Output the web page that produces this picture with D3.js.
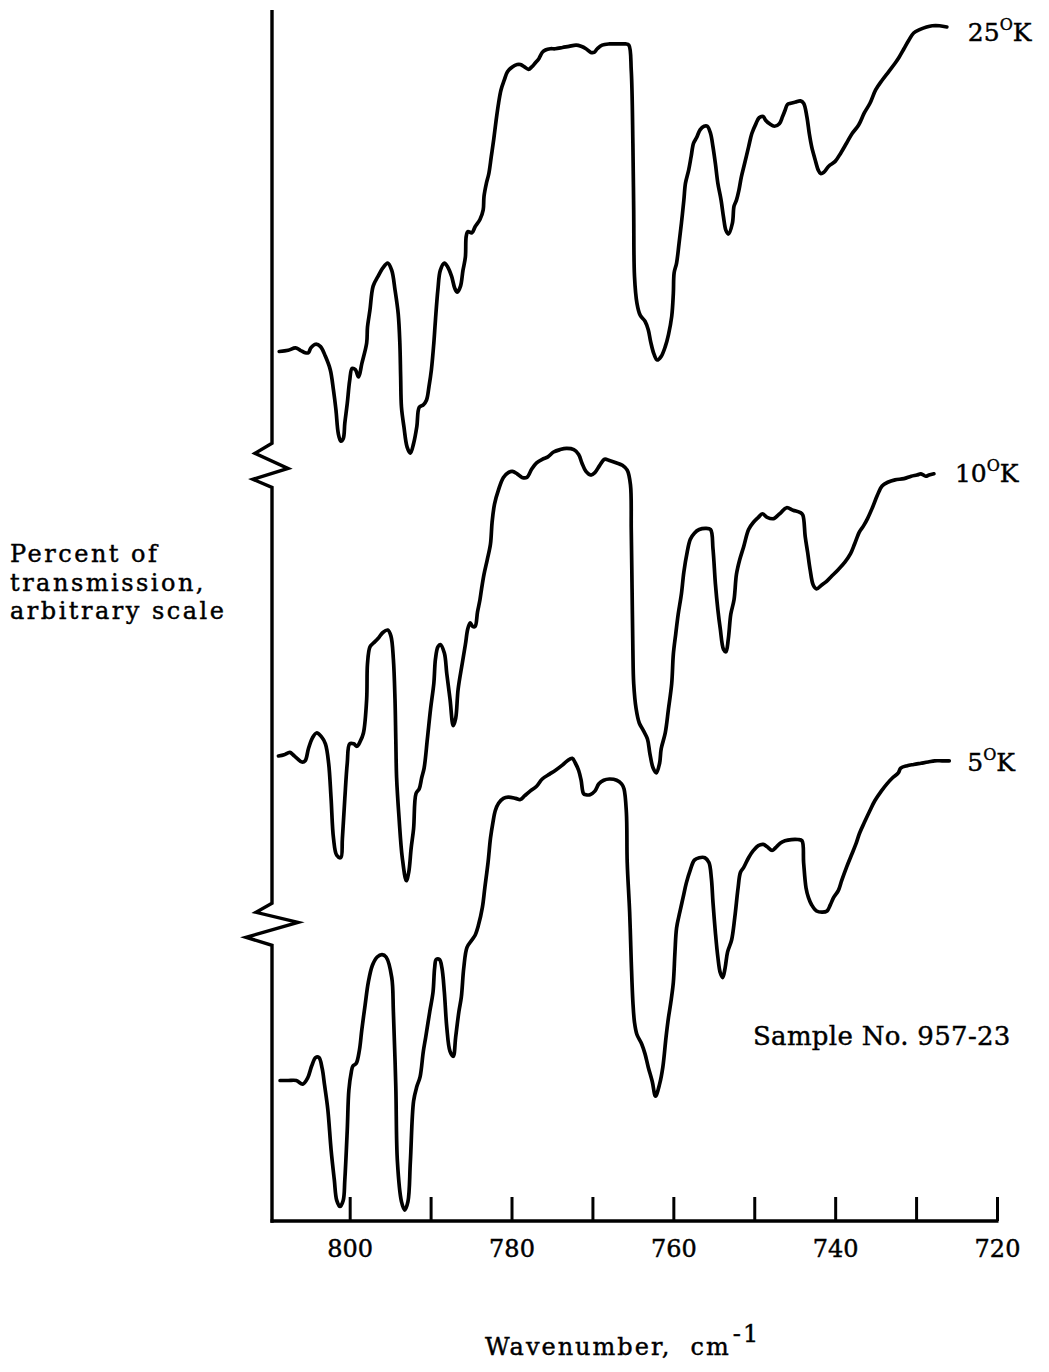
<!DOCTYPE html>
<html>
<head>
<meta charset="utf-8">
<script src="https://cdn.jsdelivr.net/npm/d3@7"></script>
<style>
  body { margin: 0; background: #fff; }
  svg { display: block; background: #fff; }
  text { font-family: "DejaVu Serif", serif; fill: #000; stroke: #000; stroke-width: 0.45px; }
</style>
</head>
<body>
<svg id="chart" width="1049" height="1372"></svg>
<script>
// Infrared transmission traces, [wavenumber (cm^-1), transmission (arbitrary, stacked)]
const spectrum25K = [
  [808.7,71.8],[807.6,71.9],[806.7,72.1],[806.1,71.9],[805.5,71.7],[805.1,71.7],[804.8,72.1],[804.2,72.4],[803.6,72.2],[803.0,71.4],
  [802.4,70.3],[802.0,68.6],[801.7,67.0],[801.4,65.0],[801.1,64.4],[800.8,64.6],[800.6,65.9],[800.3,67.5],[800.0,69.4],[799.7,70.4],
  [799.3,70.3],[798.9,69.7],[798.5,70.8],[797.9,72.5],[797.8,73.8],[797.5,75.2],[797.1,77.2],[796.5,78.0],[795.9,78.7],[795.3,79.1],
  [794.8,78.5],[794.4,76.9],[794.0,74.9],[793.8,72.5],[793.7,69.7],[793.6,67.2],[793.3,65.6],[792.9,63.9],[792.5,63.4],[792.1,64.2],
  [791.7,65.6],[791.4,67.2],[790.9,67.4],[790.5,67.8],[790.2,68.9],[789.9,70.3],[789.6,72.5],[789.4,74.4],[789.1,76.9],[788.8,78.5],
  [788.3,79.1],[787.9,78.8],[787.4,78.0],[787.0,77.0],[786.7,76.7],[786.3,77.2],[786.0,78.5],[785.7,79.6],[785.6,81.3],[785.4,81.7],
  [784.9,81.6],[784.5,82.1],[783.9,82.7],[783.5,83.5],[783.4,84.6],[783.1,85.7],[782.8,86.5],[782.5,87.9],[782.2,89.3],[781.9,90.9],
  [781.6,92.3],[781.3,93.4],[780.9,94.2],[780.5,94.9],[779.9,95.3],[779.3,95.5],[778.9,95.5],[778.4,95.3],[777.9,95.1],[777.5,95.3],
  [777.1,95.6],[776.6,96.0],[776.2,96.5],[775.8,96.7],[775.2,96.8],[774.6,96.8],[773.7,96.9],[772.9,97.0],[772.0,97.1],[771.4,97.0],
  [770.8,96.8],[770.2,96.5],[769.8,96.5],[769.4,96.8],[768.8,97.1],[767.9,97.2],[766.7,97.2],[765.9,97.2],[765.5,97.1],[765.2,95.0],
  [765.0,89.0],[764.9,83.5],[764.8,78.0],[764.5,75.8],[764.1,74.8],[763.5,74.3],[763.1,73.6],[762.8,72.6],[762.4,71.6],[762.0,71.1],
  [761.5,71.4],[761.0,72.2],[760.6,73.2],[760.2,74.7],[760.0,76.6],[759.9,78.3],[759.6,79.1],[759.3,80.7],[759.0,82.4],[758.7,84.3],
  [758.5,85.7],[758.1,86.8],[757.8,87.9],[757.5,89.0],[757.1,89.5],[756.7,90.1],[756.2,90.4],[755.8,90.4],[755.4,89.8],[755.1,88.7],
  [754.8,87.3],[754.5,85.7],[754.1,84.3],[753.8,82.9],[753.5,81.8],[753.2,81.5],[752.7,82.4],[752.5,83.8],[752.2,84.3],[751.9,85.1],
  [751.6,86.2],[751.2,87.3],[750.7,88.7],[750.3,89.8],[749.8,90.6],[749.4,91.1],[748.9,91.2],[748.6,90.9],[748.1,90.6],[747.5,90.4],
  [746.9,90.6],[746.5,91.2],[746.2,91.7],[745.9,92.2],[745.5,92.3],[744.9,92.4],[744.3,92.5],[743.9,92.3],[743.5,91.2],[743.2,89.8],
  [742.9,88.7],[742.5,87.7],[742.1,86.8],[741.8,86.5],[741.4,86.6],[740.8,87.1],[740.0,87.5],[739.3,88.2],[738.6,89.0],[737.9,89.8],
  [737.1,90.5],[736.4,91.5],[735.7,92.3],[735.0,93.4],[734.2,94.2],[733.4,94.9],[732.6,95.6],[732.1,96.1],[731.5,96.8],[730.9,97.5],
  [730.3,98.1],[729.5,98.4],[728.7,98.6],[728.0,98.7],[727.1,98.7],[726.2,98.6]
];

const spectrum10K = [
  [808.8,38.4],[808.1,38.5],[807.4,38.7],[807.0,38.5],[806.5,38.2],[805.9,37.9],[805.5,38.0],[805.1,39.0],[804.6,39.9],[804.1,40.3],
  [803.5,40.0],[803.0,39.4],[802.6,37.8],[802.3,34.9],[802.0,31.6],[801.6,30.2],[801.1,30.0],[800.9,31.6],[800.6,34.9],[800.3,37.8],
  [800.0,39.4],[799.5,39.4],[799.1,39.2],[798.7,39.6],[798.3,40.3],[797.9,43.1],[797.8,46.0],[797.5,47.4],[797.1,47.7],[796.5,48.1],
  [795.9,48.6],[795.3,48.8],[794.9,48.3],[794.6,46.4],[794.4,43.1],[794.3,39.8],[794.2,36.6],[793.9,33.3],[793.5,30.0],[793.0,28.1],
  [792.7,28.8],[792.4,30.8],[792.1,32.4],[791.8,35.3],[791.4,35.7],[791.1,36.6],[790.8,37.4],[790.4,39.8],[790.0,42.3],[789.6,44.4],
  [789.4,46.4],[789.1,47.4],[788.8,47.6],[788.3,46.9],[788.0,45.2],[787.6,43.1],[787.2,40.9],[786.9,41.5],[786.6,43.9],[786.1,46.0],
  [785.7,47.6],[785.4,48.9],[785.1,49.4],[784.8,49.1],[784.5,49.1],[784.2,50.3],[783.9,51.3],[783.7,52.2],[783.4,53.4],[783.0,54.6],
  [782.6,55.9],[782.4,57.7],[782.1,59.2],[781.6,60.4],[781.0,61.4],[780.4,61.8],[779.9,61.9],[779.3,61.7],[778.7,61.4],[778.1,61.4],
  [777.5,62.1],[776.9,62.6],[776.2,62.9],[775.5,63.1],[774.8,63.5],[774.0,63.7],[773.2,63.8],[772.3,63.7],[771.7,63.3],[771.3,62.6],
  [770.8,61.9],[770.2,61.6],[769.7,61.8],[769.1,62.4],[768.5,62.9],[767.9,62.8],[767.0,62.6],[766.3,62.4],[765.7,62.0],[765.3,60.8],
  [765.2,57.1],[765.1,52.2],[765.0,47.2],[764.9,44.4],[764.6,42.3],[764.2,41.1],[763.7,40.5],[763.2,39.8],[762.9,38.6],[762.5,37.4],
  [762.1,37.0],[761.7,37.8],[761.5,39.0],[761.0,40.3],[760.6,42.3],[760.2,44.4],[760.0,46.8],[759.7,48.5],[759.4,50.1],[759.0,51.8],
  [758.7,53.6],[758.3,55.2],[757.9,56.3],[757.4,56.8],[756.8,57.1],[756.0,57.2],[755.4,57.1],[755.1,55.5],[754.8,52.6],[754.5,50.5],
  [754.2,48.9],[753.8,47.2],[753.5,47.0],[753.2,48.1],[752.9,50.1],[752.5,51.3],[752.2,53.4],[751.8,54.6],[751.3,55.7],[750.7,57.1],
  [750.1,57.7],[749.5,58.1],[749.0,58.4],[748.4,58.1],[747.6,58.0],[747.2,58.2],[746.7,58.5],[746.0,58.9],[745.2,58.7],[744.3,58.5],
  [744.0,58.3],[743.7,56.5],[743.4,55.2],[743.1,53.8],[742.7,52.5],[742.3,52.2],[741.7,52.5],[741.1,52.8],[740.5,53.2],[739.6,53.8],
  [738.8,54.4],[738.1,55.1],[737.6,55.9],[737.0,56.9],[736.5,57.4],[736.0,58.0],[735.4,58.9],[734.8,59.9],[734.2,60.7],[733.5,61.0],
  [732.6,61.2],[731.5,61.3],[730.6,61.5],[729.9,61.6],[729.4,61.7],[728.8,61.5],[728.4,61.6],[727.8,61.7]
];

const spectrum5K = [
  [808.6,11.6],[807.6,11.6],[806.6,11.6],[805.8,11.3],[805.2,11.8],[804.7,12.8],[804.2,13.5],[803.8,13.5],[803.4,12.6],[803.1,11.2],
  [802.7,9.2],[802.3,5.9],[801.9,3.4],[801.6,1.7],[801.2,1.2],[800.8,1.7],[800.6,3.4],[800.3,7.5],[800.1,10.8],[799.8,12.3],
  [799.6,12.8],[799.2,13.0],[798.8,14.1],[798.5,15.8],[798.1,17.8],[797.7,19.7],[797.2,21.1],[796.6,21.8],[796.0,22.0],[795.5,21.8],
  [794.8,20.1],[794.6,17.3],[794.3,11.1],[794.1,4.9],[793.6,1.6],[793.2,0.9],[792.8,1.6],[792.5,4.9],[792.1,9.9],[791.7,11.1],
  [791.3,11.9],[790.9,14.0],[790.6,15.2],[790.1,17.3],[789.7,18.9],[789.5,20.9],[789.3,21.6],[788.9,21.6],[788.6,20.9],[788.3,18.9],
  [788.0,16.0],[787.6,14.0],[787.2,13.6],[786.9,15.2],[786.5,17.3],[786.2,18.5],[785.9,20.9],[785.5,22.6],[784.9,23.2],[784.5,23.6],
  [784.1,24.4],[783.6,25.9],[783.3,27.5],[782.9,29.6],[782.6,31.6],[782.3,32.9],[782.0,33.9],[781.6,34.5],[781.0,34.9],[780.4,35.0],
  [779.5,34.9],[778.9,34.8],[778.4,35.1],[777.7,35.5],[776.9,35.9],[776.2,36.5],[775.3,36.9],[774.6,37.2],[773.8,37.6],[773.1,38.0],
  [772.5,38.2],[772.1,37.8],[771.7,37.2],[771.4,36.4],[771.1,35.3],[770.8,35.2],[770.3,35.2],[769.7,35.5],[769.2,36.1],[768.6,36.4],
  [767.9,36.5],[767.0,36.4],[766.4,36.1],[766.1,35.7],[765.8,33.7],[765.7,29.6],[765.4,25.5],[765.2,21.4],[765.0,18.1],[764.8,16.4],
  [764.5,15.4],[763.9,14.6],[763.5,13.8],[763.1,12.7],[762.6,11.5],[762.2,10.3],[761.7,11.3],[761.3,12.7],[760.9,15.2],[760.6,16.8],
  [760.3,18.1],[760.0,19.7],[759.8,22.2],[759.6,24.2],[759.2,25.5],[758.8,26.7],[758.4,27.9],[757.9,29.0],[757.4,29.8],[756.8,30.0],
  [756.1,30.0],[755.6,29.6],[755.3,28.3],[755.1,26.3],[754.8,23.8],[754.5,21.8],[754.2,20.5],[753.9,20.1],[753.6,20.9],[753.3,22.2],
  [752.8,23.2],[752.4,25.1],[752.0,27.5],[751.7,28.8],[751.3,29.2],[750.7,30.0],[750.1,30.6],[749.5,31.0],[748.9,31.1],[748.4,30.9],
  [747.8,30.6],[747.4,30.8],[746.8,31.2],[746.2,31.4],[745.4,31.5],[744.6,31.5],[744.1,31.4],[743.9,29.6],[743.6,27.5],[743.3,26.7],
  [742.9,26.1],[742.3,25.6],[741.6,25.5],[741.0,25.6],[740.6,26.1],[740.2,26.7],[739.6,27.3],[739.2,28.1],[738.6,29.2],[738.0,30.2],
  [737.4,31.2],[737.0,32.0],[736.4,32.9],[735.7,33.9],[735.1,34.7],[734.3,35.5],[733.6,36.1],[732.9,36.6],[732.2,37.0],[731.9,37.4],
  [731.1,37.6],[730.3,37.7],[729.4,37.8],[728.5,37.9],[727.7,38.0],[726.8,38.0],[725.9,38.0]
];

// Temperature of each trace, top to bottom
const temperatures = ["25", "10", "5"];
const tickValues = [800, 790, 780, 770, 760, 750, 740, 730, 720];
const labeledTicks = [800, 780, 760, 740, 720];
// Transmission levels where the ordinate is broken between traces
const axisBreaks = [62.4, 24.5];

const svg = d3.select("#chart");
const x = d3.scaleLinear().domain([809.6, 720]).range([272, 997]);
const y = d3.scaleLinear().domain([0, 100]).range([1221, 10]);

// Bottom axis: ticks point up into the plot, labels every 20 cm^-1
const xAxis = d3.axisBottom(x)
  .tickValues(tickValues)
  .tickSizeInner(-24)
  .tickSizeOuter(0)
  .tickPadding(19)
  .tickFormat(d => labeledTicks.includes(d) ? d : "");

const gx = svg.append("g")
  .attr("transform", `translate(0,${y(0)})`)
  .call(xAxis);
gx.select(".domain").remove();
gx.selectAll(".tick line").attr("stroke", "#000").attr("stroke-width", 3);
gx.selectAll(".tick text")
  .attr("fill", "#000")
  .style("font-family", '"DejaVu Serif", serif')
  .style("font-size", "24px");

svg.append("line")
  .attr("x1", x.range()[0] - 1.5).attr("x2", x.range()[1] + 1.5)
  .attr("y1", y(0)).attr("y2", y(0))
  .attr("stroke", "#000").attr("stroke-width", 3.4);

// Left ordinate with zigzag breaks
const breakShapes = [
  [[0, -22], [-17, -12], [16, 3], [-19, 14], [0, 22]],
  [[0, -21], [-16, -12], [26, -2], [-26, 13], [0, 21]]
];
const yPath = d3.path();
const x0 = x.range()[0];
yPath.moveTo(x0, y(100));
axisBreaks.forEach((b, i) => {
  const c = y(b);
  breakShapes[i].forEach(([dx, dy]) => yPath.lineTo(x0 + dx, c + dy));
});
yPath.lineTo(x0, y(0) + 1.7);
svg.append("path")
  .attr("d", yPath.toString())
  .attr("fill", "none")
  .attr("stroke", "#000")
  .attr("stroke-width", 3.4)
  .attr("stroke-linejoin", "miter");

// Spectra
const line = d3.line()
  .x(d => x(d[0]))
  .y(d => y(d[1]))
  .curve(d3.curveCatmullRom.alpha(0.5));

const spectra = [spectrum25K, spectrum10K, spectrum5K];
svg.append("g").selectAll("path")
  .data(spectra)
  .join("path")
  .attr("d", line)
  .attr("fill", "none")
  .attr("stroke", "#000")
  .attr("stroke-width", 3.7)
  .attr("stroke-linejoin", "round")
  .attr("stroke-linecap", "round");

// Temperature labels beside the end of each trace
const labelOffsets = [[21, 14], [21, 8], [18, 10]];
spectra.forEach((s, i) => {
  const last = s[s.length - 1];
  const t = svg.append("text")
    .attr("x", x(last[0]) + labelOffsets[i][0])
    .attr("y", y(last[1]) + labelOffsets[i][1])
    .style("font-size", "25px");
  t.append("tspan").text(temperatures[i]);
  t.append("tspan").attr("dy", -11).style("font-size", "16px").text("O");
  t.append("tspan").attr("dy", 11).text("K");
});

// Ordinate title
const yTitle = svg.append("text")
  .attr("x", 10)
  .attr("y", 562)
  .style("font-size", "24px")
  .style("letter-spacing", "2.5px");
["Percent of", "transmission,", "arbitrary scale"].forEach((s, i) => {
  yTitle.append("tspan").attr("x", 10).attr("dy", i === 0 ? 0 : 28.5).text(s);
});

// Abscissa title
const xTitle = svg.append("text")
  .attr("x", 485)
  .attr("y", 1355)
  .style("font-size", "24px")
  .style("letter-spacing", "2px")
  .style("white-space", "pre");
xTitle.append("tspan").text("Wavenumber,  cm");
xTitle.append("tspan").attr("dy", -13).attr("dx", 2).text("-1");

// Sample identifier
svg.append("text")
  .attr("x", 753)
  .attr("y", 1045)
  .style("font-size", "26px")
  .style("letter-spacing", "0.3px")
  .text("Sample No. 957-23");
</script>
</body>
</html>
